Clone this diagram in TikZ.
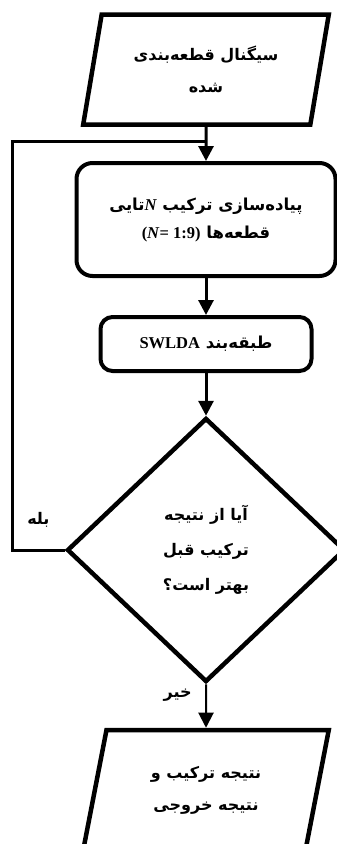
\documentclass[tikz,border=0pt]{standalone}
\usepackage{fontspec}
\setmainfont{Liberation Serif}
\newfontfamily\farsi[Script=Arabic]{DejaVu Sans}
\newfontfamily\latinfont{Liberation Serif}
\TeXXeTstate=1
\usetikzlibrary{positioning, arrows.meta, shapes.geometric}

\begin{document}
\begin{tikzpicture}[x=1pt, y=-1pt,
	iobox/.style={trapezium, trapezium left angle=76, trapezium right angle=104,
		trapezium stretches=true, draw, line width=4.5pt, minimum width=246pt,
		minimum height=110pt, align=center, font=\fontsize{16}{32}\selectfont\farsi\bfseries},
	procbox/.style={rectangle, draw, rounded corners=16pt, line width=4pt, align=center,
		font=\fontsize{16.5}{28}\selectfont\farsi\bfseries},
	decbox/.style={diamond, draw, line width=4.5pt, minimum width=278pt, minimum height=264pt,
		inner sep=0pt, align=center, font=\fontsize{16}{35}\selectfont\farsi\bfseries},
	arr/.style={-{Triangle[length=15pt, width=15pt]}, line width=3pt},
	lbl/.style={font=\fontsize{16}{20}\selectfont\farsi\bfseries}]
	
	\clip (0,0) rectangle (337,844);
	
	% Boxes of the flow
	\node[iobox] (sig) at (206,69.5) {\beginR سیگنال قطعه‌بندی\endR\\ \beginR شده\endR};
	\node[procbox, minimum width=259pt, minimum height=113pt] (comb) at (206,219.5)
		{\beginR پیاده‌سازی ترکیب \beginL{\latinfont\itshape N}\endL{}تایی\endR\\
		 \beginR قطعه‌ها \beginL{\latinfont(\textit{N}= 1:9)}\endL\endR};
	\node[procbox, minimum width=211pt, minimum height=54pt, rounded corners=12pt] (clf) at (206,344)
		{\beginR طبقه‌بند \beginL{\latinfont SWLDA}\endL\endR};
	\node[decbox] (dec) at (206,550)
		{\beginR آیا از نتیجه\endR\\ \beginR ترکیب قبل\endR\\ \beginR بهتر است؟\endR};
	\node[iobox, minimum height=120pt] (out) at (206,790)
		{\beginR نتیجه ترکیب و\endR\\ \beginR نتیجه خروجی\endR};
	
	% Loop back
	\coordinate (join) at (206,141);
	\coordinate (lft) at (12,141);
	
	% Arrows
	\draw[arr] (sig.south) -- (comb.north);
	\draw[arr] (comb.south) -- (clf.north);
	\draw[arr] (clf.south) -- (dec.north);
	\draw[arr, line width=2pt] (dec.south) -- node[lbl, left=10pt, pos=0.25]{\beginR خیر\endR} (out.north);
	\draw[line width=3pt] (dec.west) -- node[lbl, above=18pt]{\beginR بله\endR} (dec.west -| lft)
		-- (lft) -- (join);
	
\end{tikzpicture}
\end{document}
